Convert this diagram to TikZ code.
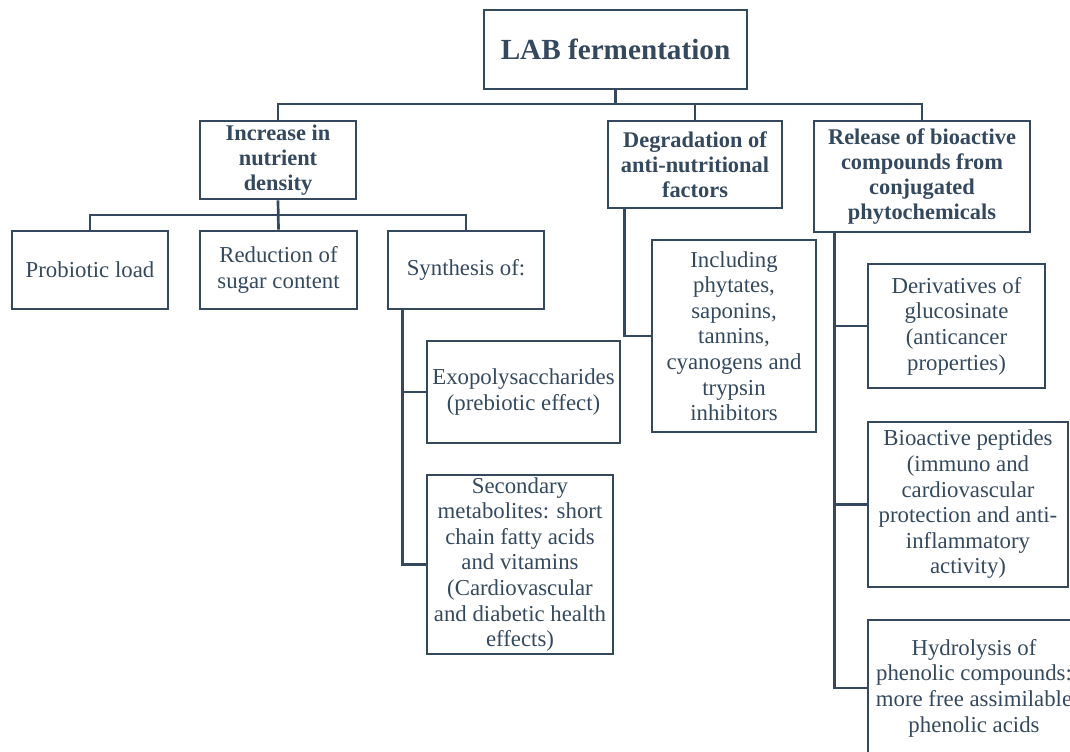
\documentclass[tikz,border=0pt]{standalone}
\usepackage{fontspec}
\setmainfont{Liberation Serif}
\usepackage{tikz}
\definecolor{slate}{HTML}{34495E}

\begin{document}
\begin{tikzpicture}[x=0.5pt,y=-0.5pt,
        box/.style={draw=slate,line width=1.35pt,text=slate,align=center,inner sep=0pt,
                font=\fontsize{11.4}{12.8}\selectfont},
        head/.style={box,font=\fontsize{11.2}{12.6}\selectfont\bfseries},
        link/.style={draw=slate,line width=1.35pt}]
        \clip (0,0) rectangle (1070,751);
        \node[box,minimum width=131.5pt,minimum height=39.5pt,
                font=\fontsize{14.6}{16}\selectfont\bfseries] (LAB) at (615.5,49.5) {LAB fermentation};
        \node[head,minimum width=78pt,minimum height=39pt] (IN) at (278,160) {Increase in\\nutrient\\density};
        \node[head,minimum width=87pt,minimum height=43.5pt] (DG) at (695,164.5) {Degradation of\\anti-nutritional\\factors};
        \node[head,minimum width=108pt,minimum height=55.5pt] (RB) at (922,176.5) {Release of bioactive\\compounds from\\conjugated\\phytochemicals};
        \node[box,minimum width=78pt,minimum height=39pt] (PL) at (90,270) {Probiotic load};
        \node[box,minimum width=78.5pt,minimum height=39pt] (RS) at (278.5,270) {Reduction of\\sugar content};
        \node[box,minimum width=78pt,minimum height=39pt] (SY) at (466,270) {Synthesis of:};
        \node[box,minimum width=96.5pt,minimum height=51pt] (EX) at (523.5,392) {Exopolysaccharides\\(prebiotic effect)};
        \node[box,minimum width=93pt,minimum height=89.5pt] (SM) at (520,564.5) {Secondary\\metabolites: short\\chain fatty acids\\and vitamins\\(Cardiovascular\\and diabetic health\\effects)};
        \node[box,minimum width=82pt,minimum height=96pt] (IC) at (734,336) {Including\\phytates,\\saponins,\\tannins,\\cyanogens and\\trypsin\\inhibitors};
        \node[box,minimum width=88.5pt,minimum height=62pt] (DV) at (956.5,326) {Derivatives of\\glucosinate\\(anticancer\\properties)};
        \node[box,minimum width=100pt,minimum height=82.5pt] (BP) at (968,504.5) {Bioactive peptides\\(immuno and\\cardiovascular\\protection and anti-\\inflammatory\\activity)};
        \node[box,minimum width=106pt,minimum height=68pt] (HY) at (974,688) {Hydrolysis of\\phenolic compounds:\\more free assimilable\\phenolic acids};
        \coordinate (B1) at (0,104);
        \coordinate (B2) at (0,215);
        \coordinate (SYT) at ([xshift=8pt]SY.south west);
        \coordinate (DGT) at ([xshift=9pt]DG.south west);
        \coordinate (RBT) at ([xshift=11pt]RB.south west);
        \draw[link] (LAB.south) -- (LAB.south |- B1);
        \draw[link] (IN.north) |- (RB.north |- B1) -- (RB.north);
        \draw[link] (DG.north) -- (DG.north |- B1);
        \draw[link] (IN.south) -- (RS.north);
        \draw[link] (PL.north) |- (SY.north |- B2) -- (SY.north);
        \draw[link] (SYT) |- (SM.west);
        \draw[link] (EX.west) -- (EX.west -| SYT);
        \draw[link] (DGT) |- (IC.west);
        \draw[link] (RBT) |- (HY.west);
        \draw[link] (DV.west) -- (DV.west -| RBT);
        \draw[link] (BP.west) -- (BP.west -| RBT);
\end{tikzpicture}
\end{document}
